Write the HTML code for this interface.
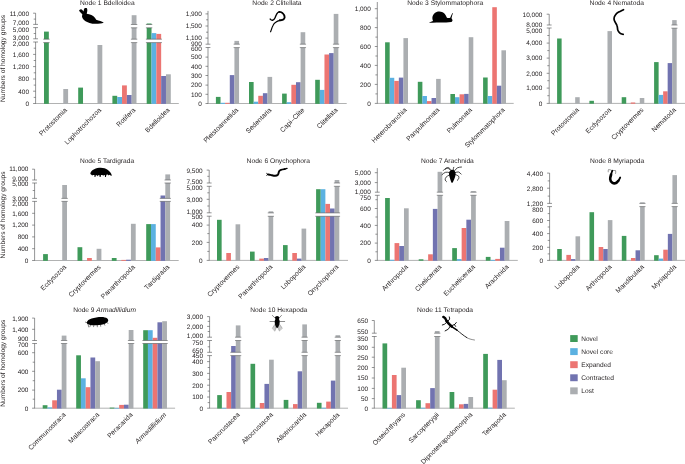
<!DOCTYPE html>
<html><head><meta charset="utf-8"><title>Figure</title>
<style>
html,body{margin:0;padding:0;background:#fff;}
body{width:685px;height:464px;overflow:hidden;}
svg{display:block;}
text{font-family:"Liberation Sans",sans-serif;fill:#231f20;text-rendering:geometricPrecision;}
</style></head><body>
<svg width="685" height="464" viewBox="0 0 685 464">
<rect width="685" height="464" fill="#fff"/>
<g opacity="0.999">
<g>
<path d="M35.3 103.5H178.8" stroke="#4c4d4f" stroke-width="0.44" fill="none"/>
<path d="M35.6 13.2V24.4M35.6 27.6V38.8M35.6 42V103.5M33.1 13.2H35.6M33.7 19.1H35.6M33.2 24.4H38M33.2 27.6H38M33.7 33.5H35.6M33.2 38.8H38M33.2 42H38M33.7 48.2H35.6M33.1 54.4H35.6M33.7 60.5H35.6M33.1 66.6H35.6M33.7 72.8H35.6M33.1 79H35.6M33.7 85.1H35.6M33.1 91.2H35.6M33.7 97.4H35.6M33.1 103.5H35.6" stroke="#4c4d4f" stroke-width="0.6" fill="none"/>
<rect x="44" y="31.6" width="4.82" height="72.25" fill="#3f9a5a"/>
<rect x="63.28" y="89" width="4.82" height="14.85" fill="#abaeb1"/>
<rect x="78.2" y="87.6" width="4.82" height="16.25" fill="#3f9a5a"/>
<rect x="97.48" y="45" width="4.82" height="58.85" fill="#abaeb1"/>
<rect x="112.4" y="95.8" width="4.82" height="8.05" fill="#3f9a5a"/>
<rect x="117.22" y="97" width="4.82" height="6.85" fill="#5bb1e1"/>
<rect x="122.04" y="85.4" width="4.82" height="18.45" fill="#ec7572"/>
<rect x="126.86" y="95" width="4.82" height="8.85" fill="#7173b0"/>
<rect x="131.68" y="15.2" width="4.82" height="88.65" fill="#abaeb1"/>
<rect x="146.7" y="23.5" width="4.82" height="80.35" fill="#3f9a5a"/>
<rect x="151.52" y="33.1" width="4.82" height="70.75" fill="#5bb1e1"/>
<rect x="156.34" y="33.9" width="4.82" height="69.95" fill="#ec7572"/>
<rect x="161.16" y="76" width="4.82" height="27.85" fill="#7173b0"/>
<rect x="165.98" y="74.3" width="4.82" height="29.55" fill="#abaeb1"/>
<rect x="130.68" y="24.5" width="6.82" height="3.3" fill="#fff"/>
<path d="M130.88 24.5H137.3M130.88 27.8H137.3" stroke="#58595b" stroke-width="0.6" fill="none"/>
<rect x="145.7" y="24.5" width="6.82" height="3.3" fill="#fff"/>
<path d="M145.9 24.5H152.32M145.9 27.8H152.32" stroke="#58595b" stroke-width="0.6" fill="none"/>
<rect x="43" y="39.2" width="6.82" height="3.4" fill="#fff"/>
<path d="M43.2 39.2H49.62M43.2 42.6H49.62" stroke="#58595b" stroke-width="0.6" fill="none"/>
<rect x="130.68" y="39.2" width="6.82" height="3.4" fill="#fff"/>
<path d="M130.88 39.2H137.3M130.88 42.6H137.3" stroke="#58595b" stroke-width="0.6" fill="none"/>
<rect x="145.7" y="39.2" width="16.46" height="3.4" fill="#fff"/>
<path d="M145.9 39.2H161.96M145.9 42.6H161.96" stroke="#58595b" stroke-width="0.6" fill="none"/>
<text transform="translate(29 15.8) scale(0.1)" text-anchor="end" font-size="64.5">11,000</text>
<text transform="translate(29 25.4) scale(0.1)" text-anchor="end" font-size="64.5">7,000</text>
<text transform="translate(29 31.7) scale(0.1)" text-anchor="end" font-size="64.5">5,000</text>
<text transform="translate(29 39.6) scale(0.1)" text-anchor="end" font-size="64.5">3,000</text>
<text transform="translate(29 45.9) scale(0.1)" text-anchor="end" font-size="64.5">2,000</text>
<text transform="translate(29 56.7) scale(0.1)" text-anchor="end" font-size="64.5">1,600</text>
<text transform="translate(29 68.9) scale(0.1)" text-anchor="end" font-size="64.5">1,200</text>
<text transform="translate(29 81.3) scale(0.1)" text-anchor="end" font-size="64.5">800</text>
<text transform="translate(29 93.5) scale(0.1)" text-anchor="end" font-size="64.5">400</text>
<text transform="translate(29 105.8) scale(0.1)" text-anchor="end" font-size="64.5">0</text>
<text transform="translate(67.5 110.5) rotate(-45) scale(0.1)" text-anchor="end" font-size="68.0">Protostomia</text>
<text transform="translate(101.7 110.5) rotate(-45) scale(0.1)" text-anchor="end" font-size="68.0">Lophotrochozoa</text>
<text transform="translate(135.9 110.5) rotate(-45) scale(0.1)" text-anchor="end" font-size="68.0">Rotifera</text>
<text transform="translate(170.2 110.5) rotate(-45) scale(0.1)" text-anchor="end" font-size="68.0">Bdelloidea</text>
<text transform="translate(107.3 5.4) scale(0.1)" text-anchor="middle" font-size="67.0" textLength="546" lengthAdjust="spacingAndGlyphs">Node 1 Bdelloidea</text>
</g>
<g>
<path d="M207.7 103.5H346.7" stroke="#4c4d4f" stroke-width="0.44" fill="none"/>
<path d="M208 10.9V44.2M208 47.5V103.5M205.5 13.9H208M206.1 19.8H208M205.5 26H208M206.1 32.2H208M205.5 38.1H208M205.6 44.2H210.4M205.6 47.5H210.4M205.5 57.1H208M205.5 66.3H208M205.5 75.5H208M205.5 85.1H208M205.5 94.3H208M205.5 103.5H208" stroke="#4c4d4f" stroke-width="0.6" fill="none"/>
<rect x="215.9" y="96.9" width="4.63" height="6.95" fill="#3f9a5a"/>
<rect x="220.53" y="102.8" width="4.63" height="1.05" fill="#5bb1e1"/>
<rect x="225.16" y="102.8" width="4.63" height="1.05" fill="#ec7572"/>
<rect x="229.79" y="75.1" width="4.63" height="28.75" fill="#7173b0"/>
<rect x="234.42" y="40.9" width="4.63" height="62.95" fill="#abaeb1"/>
<rect x="249" y="82" width="4.63" height="21.85" fill="#3f9a5a"/>
<rect x="253.63" y="101.7" width="4.63" height="2.15" fill="#5bb1e1"/>
<rect x="258.26" y="95.8" width="4.63" height="8.05" fill="#ec7572"/>
<rect x="262.89" y="93.2" width="4.63" height="10.65" fill="#7173b0"/>
<rect x="267.52" y="76.9" width="4.63" height="26.95" fill="#abaeb1"/>
<rect x="282.1" y="93.6" width="4.63" height="10.25" fill="#3f9a5a"/>
<rect x="286.73" y="102.2" width="4.63" height="1.65" fill="#5bb1e1"/>
<rect x="291.36" y="84.8" width="4.63" height="19.05" fill="#ec7572"/>
<rect x="295.99" y="82.2" width="4.63" height="21.65" fill="#7173b0"/>
<rect x="300.62" y="32.2" width="4.63" height="71.65" fill="#abaeb1"/>
<rect x="315.2" y="79.8" width="4.63" height="24.05" fill="#3f9a5a"/>
<rect x="319.83" y="89.9" width="4.63" height="13.95" fill="#5bb1e1"/>
<rect x="324.46" y="54.5" width="4.63" height="49.35" fill="#ec7572"/>
<rect x="329.09" y="53.1" width="4.63" height="50.75" fill="#7173b0"/>
<rect x="333.72" y="13.9" width="4.63" height="89.95" fill="#abaeb1"/>
<rect x="233.42" y="44.2" width="6.63" height="3.4" fill="#fff"/>
<path d="M233.62 44.2H239.85M233.62 47.6H239.85" stroke="#58595b" stroke-width="0.6" fill="none"/>
<rect x="299.62" y="44.2" width="6.63" height="3.4" fill="#fff"/>
<path d="M299.82 44.2H306.05M299.82 47.6H306.05" stroke="#58595b" stroke-width="0.6" fill="none"/>
<rect x="332.72" y="44.2" width="6.63" height="3.4" fill="#fff"/>
<path d="M332.92 44.2H339.15M332.92 47.6H339.15" stroke="#58595b" stroke-width="0.6" fill="none"/>
<text transform="translate(201.8 16.2) scale(0.1)" text-anchor="end" font-size="64.5">1,900</text>
<text transform="translate(201.8 28.3) scale(0.1)" text-anchor="end" font-size="64.5">1,500</text>
<text transform="translate(201.8 40) scale(0.1)" text-anchor="end" font-size="64.5">1,100</text>
<text transform="translate(201.8 46) scale(0.1)" text-anchor="end" font-size="64.5">900</text>
<text transform="translate(201.8 51) scale(0.1)" text-anchor="end" font-size="64.5">600</text>
<text transform="translate(201.8 59.4) scale(0.1)" text-anchor="end" font-size="64.5">500</text>
<text transform="translate(201.8 68.6) scale(0.1)" text-anchor="end" font-size="64.5">400</text>
<text transform="translate(201.8 77.8) scale(0.1)" text-anchor="end" font-size="64.5">300</text>
<text transform="translate(201.8 87.4) scale(0.1)" text-anchor="end" font-size="64.5">200</text>
<text transform="translate(201.8 96.6) scale(0.1)" text-anchor="end" font-size="64.5">100</text>
<text transform="translate(201.8 105.8) scale(0.1)" text-anchor="end" font-size="64.5">0</text>
<text transform="translate(238.75 110.5) rotate(-45) scale(0.1)" text-anchor="end" font-size="68.0">Pleistoannelida</text>
<text transform="translate(271.85 110.5) rotate(-45) scale(0.1)" text-anchor="end" font-size="68.0">Sedentaria</text>
<text transform="translate(304.95 110.5) rotate(-45) scale(0.1)" text-anchor="end" font-size="68.0">Capi&#8211;Clite</text>
<text transform="translate(338.05 110.5) rotate(-45) scale(0.1)" text-anchor="end" font-size="68.0">Clitellata</text>
<text transform="translate(276.9 5.4) scale(0.1)" text-anchor="middle" font-size="67.0">Node 2 Clitellata</text>
</g>
<g>
<path d="M377 103.4H513.7" stroke="#4c4d4f" stroke-width="0.44" fill="none"/>
<path d="M377.3 2V103.4M374.8 8.7H377.3M375.4 18.1H377.3M374.8 27.6H377.3M375.4 37.1H377.3M374.8 46.5H377.3M375.4 56H377.3M374.8 65.4H377.3M375.4 74.9H377.3M374.8 84.4H377.3M375.4 93.9H377.3M374.8 103.4H377.3" stroke="#4c4d4f" stroke-width="0.6" fill="none"/>
<rect x="385.1" y="42.3" width="4.58" height="61.45" fill="#3f9a5a"/>
<rect x="389.68" y="77.8" width="4.58" height="25.95" fill="#5bb1e1"/>
<rect x="394.26" y="80.9" width="4.58" height="22.85" fill="#ec7572"/>
<rect x="398.84" y="77.6" width="4.58" height="26.15" fill="#7173b0"/>
<rect x="403.42" y="38.1" width="4.58" height="65.65" fill="#abaeb1"/>
<rect x="417.8" y="81.8" width="4.58" height="21.95" fill="#3f9a5a"/>
<rect x="422.38" y="96" width="4.58" height="7.75" fill="#5bb1e1"/>
<rect x="426.96" y="101.1" width="4.58" height="2.65" fill="#ec7572"/>
<rect x="431.54" y="98" width="4.58" height="5.75" fill="#7173b0"/>
<rect x="436.12" y="78.9" width="4.58" height="24.85" fill="#abaeb1"/>
<rect x="450.4" y="94" width="4.58" height="9.75" fill="#3f9a5a"/>
<rect x="454.98" y="97.2" width="4.58" height="6.55" fill="#5bb1e1"/>
<rect x="459.56" y="94.3" width="4.58" height="9.45" fill="#ec7572"/>
<rect x="464.14" y="93.9" width="4.58" height="9.85" fill="#7173b0"/>
<rect x="468.72" y="37.2" width="4.58" height="66.55" fill="#abaeb1"/>
<rect x="483.1" y="77.5" width="4.58" height="26.25" fill="#3f9a5a"/>
<rect x="487.68" y="96" width="4.58" height="7.75" fill="#5bb1e1"/>
<rect x="492.26" y="7.2" width="4.58" height="96.55" fill="#ec7572"/>
<rect x="496.84" y="85.7" width="4.58" height="18.05" fill="#7173b0"/>
<rect x="501.42" y="50.3" width="4.58" height="53.45" fill="#abaeb1"/>
<text transform="translate(370.8 11) scale(0.1)" text-anchor="end" font-size="64.5">1,000</text>
<text transform="translate(370.8 29.9) scale(0.1)" text-anchor="end" font-size="64.5">800</text>
<text transform="translate(370.8 48.8) scale(0.1)" text-anchor="end" font-size="64.5">600</text>
<text transform="translate(370.8 67.7) scale(0.1)" text-anchor="end" font-size="64.5">400</text>
<text transform="translate(370.8 86.7) scale(0.1)" text-anchor="end" font-size="64.5">200</text>
<text transform="translate(370.8 105.7) scale(0.1)" text-anchor="end" font-size="64.5">0</text>
<text transform="translate(407.2 110.4) rotate(-45) scale(0.1)" text-anchor="end" font-size="68.0">Heterobranchia</text>
<text transform="translate(439.9 110.4) rotate(-45) scale(0.1)" text-anchor="end" font-size="68.0">Panpulmonata</text>
<text transform="translate(472.5 110.4) rotate(-45) scale(0.1)" text-anchor="end" font-size="68.0">Pulmonata</text>
<text transform="translate(505.2 110.4) rotate(-45) scale(0.1)" text-anchor="end" font-size="68.0">Stylommatophora</text>
<text transform="translate(445.2 5.1) scale(0.1)" text-anchor="middle" font-size="67.0" textLength="760" lengthAdjust="spacingAndGlyphs">Node 3 Stylommatophora</text>
</g>
<g>
<path d="M548.9 103.4H685" stroke="#4c4d4f" stroke-width="0.44" fill="none"/>
<path d="M549.2 14.2V25M549.2 28V103.4M546.7 14.2H549.2M546.8 25H551.6M546.8 28H551.6M547.3 35.5H549.2M546.7 43.1H549.2M547.3 50.6H549.2M546.7 58.1H549.2M547.3 65.7H549.2M546.7 73.3H549.2M547.3 80.7H549.2M546.7 88.1H549.2M547.3 95.7H549.2M546.7 103.4H549.2" stroke="#4c4d4f" stroke-width="0.6" fill="none"/>
<rect x="557.1" y="38.5" width="4.52" height="65.25" fill="#3f9a5a"/>
<rect x="575.18" y="97.2" width="4.52" height="6.55" fill="#abaeb1"/>
<rect x="589.4" y="100.8" width="4.52" height="2.95" fill="#3f9a5a"/>
<rect x="607.48" y="31.1" width="4.52" height="72.65" fill="#abaeb1"/>
<rect x="621.7" y="97.2" width="4.52" height="6.55" fill="#3f9a5a"/>
<rect x="630.74" y="102.5" width="4.52" height="1.25" fill="#ec7572"/>
<rect x="639.78" y="98" width="4.52" height="5.75" fill="#abaeb1"/>
<rect x="654.1" y="62.1" width="4.52" height="41.65" fill="#3f9a5a"/>
<rect x="658.62" y="94.9" width="4.52" height="8.85" fill="#5bb1e1"/>
<rect x="663.14" y="91.3" width="4.52" height="12.45" fill="#ec7572"/>
<rect x="667.66" y="63.1" width="4.52" height="40.65" fill="#7173b0"/>
<rect x="672.18" y="20.1" width="4.52" height="83.65" fill="#abaeb1"/>
<rect x="671.18" y="25" width="6.52" height="3.2" fill="#fff"/>
<path d="M671.38 25H677.5M671.38 28.2H677.5" stroke="#58595b" stroke-width="0.6" fill="none"/>
<text transform="translate(542.3 16.5) scale(0.1)" text-anchor="end" font-size="64.5">10,000</text>
<text transform="translate(542.3 26.6) scale(0.1)" text-anchor="end" font-size="64.5">8,000</text>
<text transform="translate(542.3 32.9) scale(0.1)" text-anchor="end" font-size="64.5">5,000</text>
<text transform="translate(542.3 45.4) scale(0.1)" text-anchor="end" font-size="64.5">4,000</text>
<text transform="translate(542.3 60.4) scale(0.1)" text-anchor="end" font-size="64.5">3,000</text>
<text transform="translate(542.3 75.6) scale(0.1)" text-anchor="end" font-size="64.5">2,000</text>
<text transform="translate(542.3 90.4) scale(0.1)" text-anchor="end" font-size="64.5">1,000</text>
<text transform="translate(542.3 105.7) scale(0.1)" text-anchor="end" font-size="64.5">0</text>
<text transform="translate(579.4 110.4) rotate(-45) scale(0.1)" text-anchor="end" font-size="68.0">Protostomia</text>
<text transform="translate(611.7 110.4) rotate(-45) scale(0.1)" text-anchor="end" font-size="68.0">Ecdysozoa</text>
<text transform="translate(644 110.4) rotate(-45) scale(0.1)" text-anchor="end" font-size="68.0">Cryptovermes</text>
<text transform="translate(676.4 110.4) rotate(-45) scale(0.1)" text-anchor="end" font-size="68.0">Nematoda</text>
<text transform="translate(616.7 5.1) scale(0.1)" text-anchor="middle" font-size="67.0" textLength="543" lengthAdjust="spacingAndGlyphs">Node 4 Nematoda</text>
</g>
<g>
<path d="M34.3 260.5H178.7" stroke="#4c4d4f" stroke-width="0.44" fill="none"/>
<path d="M34.6 169.2V180M34.6 183V198.4M34.6 201.4V260.5M32.1 169.2H34.6M32.2 180H37M32.2 183H37M32.7 190.5H34.6M32.2 198.4H37M32.2 201.4H37M32.1 213.3H34.6M32.1 225.1H34.6M32.1 236.9H34.6M32.1 248.7H34.6M32.1 260.5H34.6" stroke="#4c4d4f" stroke-width="0.6" fill="none"/>
<rect x="43.1" y="254.1" width="4.78" height="6.75" fill="#3f9a5a"/>
<rect x="62.22" y="185" width="4.78" height="75.85" fill="#abaeb1"/>
<rect x="77.5" y="247.2" width="4.78" height="13.65" fill="#3f9a5a"/>
<rect x="87.06" y="258" width="4.78" height="2.85" fill="#ec7572"/>
<rect x="96.62" y="248.8" width="4.78" height="12.05" fill="#abaeb1"/>
<rect x="111.8" y="258" width="4.78" height="2.85" fill="#3f9a5a"/>
<rect x="121.36" y="259.9" width="4.78" height="0.95" fill="#ec7572"/>
<rect x="126.14" y="259.7" width="4.78" height="1.15" fill="#7173b0"/>
<rect x="130.92" y="223.8" width="4.78" height="37.05" fill="#abaeb1"/>
<rect x="146.2" y="224.1" width="4.78" height="36.75" fill="#3f9a5a"/>
<rect x="150.98" y="224.1" width="4.78" height="36.75" fill="#5bb1e1"/>
<rect x="155.76" y="247.4" width="4.78" height="13.45" fill="#ec7572"/>
<rect x="160.54" y="195.5" width="4.78" height="65.35" fill="#7173b0"/>
<rect x="165.32" y="174.4" width="4.78" height="86.45" fill="#abaeb1"/>
<rect x="164.32" y="180" width="6.78" height="3" fill="#fff"/>
<path d="M164.52 180H170.9M164.52 183H170.9" stroke="#58595b" stroke-width="0.6" fill="none"/>
<rect x="61.22" y="198.4" width="6.78" height="3" fill="#fff"/>
<path d="M61.42 198.4H67.8M61.42 201.4H67.8" stroke="#58595b" stroke-width="0.6" fill="none"/>
<rect x="159.54" y="198.4" width="11.56" height="3" fill="#fff"/>
<path d="M159.74 198.4H170.9M159.74 201.4H170.9" stroke="#58595b" stroke-width="0.6" fill="none"/>
<text transform="translate(28.4 171) scale(0.1)" text-anchor="end" font-size="64.5">11,000</text>
<text transform="translate(28.4 181.1) scale(0.1)" text-anchor="end" font-size="64.5">9,000</text>
<text transform="translate(28.4 186) scale(0.1)" text-anchor="end" font-size="64.5">5,000</text>
<text transform="translate(28.4 201) scale(0.1)" text-anchor="end" font-size="64.5">3,000</text>
<text transform="translate(28.4 206.2) scale(0.1)" text-anchor="end" font-size="64.5">2,000</text>
<text transform="translate(28.4 215.6) scale(0.1)" text-anchor="end" font-size="64.5">1,600</text>
<text transform="translate(28.4 227.4) scale(0.1)" text-anchor="end" font-size="64.5">1,200</text>
<text transform="translate(28.4 239.2) scale(0.1)" text-anchor="end" font-size="64.5">800</text>
<text transform="translate(28.4 251) scale(0.1)" text-anchor="end" font-size="64.5">400</text>
<text transform="translate(28.4 262.8) scale(0.1)" text-anchor="end" font-size="64.5">0</text>
<text transform="translate(66.7 267.5) rotate(-45) scale(0.1)" text-anchor="end" font-size="68.0">Ecdysozoa</text>
<text transform="translate(101.1 267.5) rotate(-45) scale(0.1)" text-anchor="end" font-size="68.0">Cryptovermes</text>
<text transform="translate(135.4 267.5) rotate(-45) scale(0.1)" text-anchor="end" font-size="68.0">Panarthropoda</text>
<text transform="translate(169.8 267.5) rotate(-45) scale(0.1)" text-anchor="end" font-size="68.0">Tardigrada</text>
<text transform="translate(107 163.3) scale(0.1)" text-anchor="middle" font-size="67.0" textLength="541" lengthAdjust="spacingAndGlyphs">Node 5 Tardigrada</text>
</g>
<g>
<path d="M208.9 260.4H348" stroke="#4c4d4f" stroke-width="0.44" fill="none"/>
<path d="M209.2 170.1V183M209.2 186.3V212.8M209.2 216.2V260.4M206.7 170.1H209.2M207.3 176.3H209.2M206.8 183H211.6M206.8 186.3H211.6M207.3 192.8H209.2M206.7 199.3H209.2M207.3 206H209.2M206.8 212.8H211.6M206.8 216.2H211.6M206.7 225.1H209.2M207.3 233.6H209.2M206.7 242.4H209.2M207.3 251.4H209.2M206.7 260.4H209.2" stroke="#4c4d4f" stroke-width="0.6" fill="none"/>
<rect x="217" y="219.8" width="4.64" height="40.95" fill="#3f9a5a"/>
<rect x="226.28" y="253" width="4.64" height="7.75" fill="#ec7572"/>
<rect x="235.56" y="224.3" width="4.64" height="36.45" fill="#abaeb1"/>
<rect x="250" y="251.6" width="4.64" height="9.15" fill="#3f9a5a"/>
<rect x="259.28" y="258.6" width="4.64" height="2.15" fill="#ec7572"/>
<rect x="263.92" y="258" width="4.64" height="2.75" fill="#7173b0"/>
<rect x="268.56" y="211.3" width="4.64" height="49.45" fill="#abaeb1"/>
<rect x="283" y="245.1" width="4.64" height="15.65" fill="#3f9a5a"/>
<rect x="292.28" y="253" width="4.64" height="7.75" fill="#ec7572"/>
<rect x="296.92" y="258.6" width="4.64" height="2.15" fill="#7173b0"/>
<rect x="301.56" y="228.6" width="4.64" height="32.15" fill="#abaeb1"/>
<rect x="316.1" y="189.2" width="4.64" height="71.55" fill="#3f9a5a"/>
<rect x="320.74" y="189.2" width="4.64" height="71.55" fill="#5bb1e1"/>
<rect x="325.38" y="203.9" width="4.64" height="56.85" fill="#ec7572"/>
<rect x="330.02" y="208.5" width="4.64" height="52.25" fill="#7173b0"/>
<rect x="334.66" y="180" width="4.64" height="80.75" fill="#abaeb1"/>
<rect x="333.66" y="183" width="6.64" height="3.3" fill="#fff"/>
<path d="M333.86 183H340.1M333.86 186.3H340.1" stroke="#58595b" stroke-width="0.6" fill="none"/>
<rect x="267.56" y="212.9" width="6.64" height="3.4" fill="#fff"/>
<path d="M267.76 212.9H274M267.76 216.3H274" stroke="#58595b" stroke-width="0.6" fill="none"/>
<rect x="315.1" y="212.9" width="25.2" height="3.4" fill="#fff"/>
<path d="M315.3 212.9H340.1M315.3 216.3H340.1" stroke="#58595b" stroke-width="0.6" fill="none"/>
<text transform="translate(202.6 172.8) scale(0.1)" text-anchor="end" font-size="64.5">9,500</text>
<text transform="translate(202.6 184) scale(0.1)" text-anchor="end" font-size="64.5">7,500</text>
<text transform="translate(202.6 189.5) scale(0.1)" text-anchor="end" font-size="64.5">5,000</text>
<text transform="translate(202.6 201.6) scale(0.1)" text-anchor="end" font-size="64.5">3,000</text>
<text transform="translate(202.6 213.5) scale(0.1)" text-anchor="end" font-size="64.5">1,000</text>
<text transform="translate(202.6 218.9) scale(0.1)" text-anchor="end" font-size="64.5">500</text>
<text transform="translate(202.6 227.4) scale(0.1)" text-anchor="end" font-size="64.5">400</text>
<text transform="translate(202.6 244.9) scale(0.1)" text-anchor="end" font-size="64.5">200</text>
<text transform="translate(202.6 262.7) scale(0.1)" text-anchor="end" font-size="64.5">0</text>
<text transform="translate(239.9 267.4) rotate(-45) scale(0.1)" text-anchor="end" font-size="68.0">Cryptovermes</text>
<text transform="translate(272.9 267.4) rotate(-45) scale(0.1)" text-anchor="end" font-size="68.0">Panarthropoda</text>
<text transform="translate(305.9 267.4) rotate(-45) scale(0.1)" text-anchor="end" font-size="68.0">Lobopodia</text>
<text transform="translate(339 267.4) rotate(-45) scale(0.1)" text-anchor="end" font-size="68.0">Onychophora</text>
<text transform="translate(278.3 163.3) scale(0.1)" text-anchor="middle" font-size="67.0" textLength="634" lengthAdjust="spacingAndGlyphs">Node 6 Onychophora</text>
</g>
<g>
<path d="M377 260.4H517.8" stroke="#4c4d4f" stroke-width="0.44" fill="none"/>
<path d="M377.3 168.1V192.2M377.3 195.3V260.4M374.8 172.7H377.3M374.8 182.6H377.3M374.9 192.2H379.7M374.9 195.3H379.7M375.4 199.7H377.3M374.8 208.5H377.3M375.4 217H377.3M374.8 225.4H377.3M375.4 234.2H377.3M374.8 243.1H377.3M375.4 251.8H377.3M374.8 260.4H377.3" stroke="#4c4d4f" stroke-width="0.6" fill="none"/>
<rect x="385.1" y="198" width="4.72" height="62.75" fill="#3f9a5a"/>
<rect x="389.82" y="259.8" width="4.72" height="0.95" fill="#5bb1e1"/>
<rect x="394.54" y="243.1" width="4.72" height="17.65" fill="#ec7572"/>
<rect x="399.26" y="246" width="4.72" height="14.75" fill="#7173b0"/>
<rect x="403.98" y="208.3" width="4.72" height="52.45" fill="#abaeb1"/>
<rect x="418.7" y="259.3" width="4.72" height="1.45" fill="#3f9a5a"/>
<rect x="428.14" y="254.3" width="4.72" height="6.45" fill="#ec7572"/>
<rect x="432.86" y="208.9" width="4.72" height="51.85" fill="#7173b0"/>
<rect x="437.58" y="171.8" width="4.72" height="88.95" fill="#abaeb1"/>
<rect x="452.2" y="248.1" width="4.72" height="12.65" fill="#3f9a5a"/>
<rect x="456.92" y="259.1" width="4.72" height="1.65" fill="#5bb1e1"/>
<rect x="461.64" y="228" width="4.72" height="32.75" fill="#ec7572"/>
<rect x="466.36" y="219.7" width="4.72" height="41.05" fill="#7173b0"/>
<rect x="471.08" y="191.1" width="4.72" height="69.65" fill="#abaeb1"/>
<rect x="485.8" y="256.9" width="4.72" height="3.85" fill="#3f9a5a"/>
<rect x="490.52" y="259.9" width="4.72" height="0.85" fill="#5bb1e1"/>
<rect x="495.24" y="258.9" width="4.72" height="1.85" fill="#ec7572"/>
<rect x="499.96" y="247.7" width="4.72" height="13.05" fill="#7173b0"/>
<rect x="504.68" y="221" width="4.72" height="39.75" fill="#abaeb1"/>
<rect x="436.58" y="192.2" width="6.72" height="3.1" fill="#fff"/>
<path d="M436.78 192.2H443.1M436.78 195.3H443.1" stroke="#58595b" stroke-width="0.6" fill="none"/>
<rect x="470.08" y="192.2" width="6.72" height="3.1" fill="#fff"/>
<path d="M470.28 192.2H476.6M470.28 195.3H476.6" stroke="#58595b" stroke-width="0.6" fill="none"/>
<text transform="translate(370.8 175) scale(0.1)" text-anchor="end" font-size="64.5">5,000</text>
<text transform="translate(370.8 184.9) scale(0.1)" text-anchor="end" font-size="64.5">3,000</text>
<text transform="translate(370.8 193.8) scale(0.1)" text-anchor="end" font-size="64.5">1,000</text>
<text transform="translate(370.8 200) scale(0.1)" text-anchor="end" font-size="64.5">750</text>
<text transform="translate(370.8 210.8) scale(0.1)" text-anchor="end" font-size="64.5">600</text>
<text transform="translate(370.8 227.7) scale(0.1)" text-anchor="end" font-size="64.5">400</text>
<text transform="translate(370.8 245.4) scale(0.1)" text-anchor="end" font-size="64.5">200</text>
<text transform="translate(370.8 262.7) scale(0.1)" text-anchor="end" font-size="64.5">0</text>
<text transform="translate(408.4 267.4) rotate(-45) scale(0.1)" text-anchor="end" font-size="68.0">Arthropoda</text>
<text transform="translate(442 267.4) rotate(-45) scale(0.1)" text-anchor="end" font-size="68.0">Chelicerata</text>
<text transform="translate(475.5 267.4) rotate(-45) scale(0.1)" text-anchor="end" font-size="68.0">Euchelicerata</text>
<text transform="translate(509.1 267.4) rotate(-45) scale(0.1)" text-anchor="end" font-size="68.0">Arachnida</text>
<text transform="translate(447.4 163.3) scale(0.1)" text-anchor="middle" font-size="67.0" textLength="528" lengthAdjust="spacingAndGlyphs">Node 7 Arachnida</text>
</g>
<g>
<path d="M549.3 260.4H685" stroke="#4c4d4f" stroke-width="0.44" fill="none"/>
<path d="M549.6 173.1V203.4M549.6 206.6V260.4M547.1 173.1H549.6M547.7 180.9H549.6M547.1 188.2H549.6M547.7 196.1H549.6M547.2 203.4H552M547.2 206.6H552M547.7 213.6H549.6M547.1 220.5H549.6M547.7 227H549.6M547.1 233.6H549.6M547.7 240.4H549.6M547.1 247.3H549.6M547.7 253.9H549.6M547.1 260.4H549.6" stroke="#4c4d4f" stroke-width="0.6" fill="none"/>
<rect x="557.2" y="249" width="4.58" height="11.75" fill="#3f9a5a"/>
<rect x="566.36" y="254.9" width="4.58" height="5.85" fill="#ec7572"/>
<rect x="570.94" y="259.1" width="4.58" height="1.65" fill="#7173b0"/>
<rect x="575.52" y="236.3" width="4.58" height="24.45" fill="#abaeb1"/>
<rect x="589.5" y="212.2" width="4.58" height="48.55" fill="#3f9a5a"/>
<rect x="598.66" y="247" width="4.58" height="13.75" fill="#ec7572"/>
<rect x="603.24" y="249" width="4.58" height="11.75" fill="#7173b0"/>
<rect x="607.82" y="220.1" width="4.58" height="40.65" fill="#abaeb1"/>
<rect x="621.8" y="235.9" width="4.58" height="24.85" fill="#3f9a5a"/>
<rect x="630.96" y="258" width="4.58" height="2.75" fill="#ec7572"/>
<rect x="635.54" y="250.3" width="4.58" height="10.45" fill="#7173b0"/>
<rect x="640.12" y="202.3" width="4.58" height="58.45" fill="#abaeb1"/>
<rect x="654.1" y="255.2" width="4.58" height="5.55" fill="#3f9a5a"/>
<rect x="658.68" y="258.6" width="4.58" height="2.15" fill="#5bb1e1"/>
<rect x="663.26" y="249.7" width="4.58" height="11.05" fill="#ec7572"/>
<rect x="667.84" y="233.9" width="4.58" height="26.85" fill="#7173b0"/>
<rect x="672.42" y="175.1" width="4.58" height="85.65" fill="#abaeb1"/>
<rect x="639.12" y="203.4" width="6.58" height="3.2" fill="#fff"/>
<path d="M639.32 203.4H645.5M639.32 206.6H645.5" stroke="#58595b" stroke-width="0.6" fill="none"/>
<rect x="671.42" y="203.4" width="6.58" height="3.2" fill="#fff"/>
<path d="M671.62 203.4H677.8M671.62 206.6H677.8" stroke="#58595b" stroke-width="0.6" fill="none"/>
<text transform="translate(543 175.7) scale(0.1)" text-anchor="end" font-size="64.5">4,400</text>
<text transform="translate(543 190.9) scale(0.1)" text-anchor="end" font-size="64.5">2,800</text>
<text transform="translate(543 205.9) scale(0.1)" text-anchor="end" font-size="64.5">1,200</text>
<text transform="translate(543 211.7) scale(0.1)" text-anchor="end" font-size="64.5">800</text>
<text transform="translate(543 222.8) scale(0.1)" text-anchor="end" font-size="64.5">600</text>
<text transform="translate(543 235.9) scale(0.1)" text-anchor="end" font-size="64.5">400</text>
<text transform="translate(543 249.6) scale(0.1)" text-anchor="end" font-size="64.5">200</text>
<text transform="translate(543 262.7) scale(0.1)" text-anchor="end" font-size="64.5">0</text>
<text transform="translate(579.8 267.4) rotate(-45) scale(0.1)" text-anchor="end" font-size="68.0">Lobopodia</text>
<text transform="translate(612.1 267.4) rotate(-45) scale(0.1)" text-anchor="end" font-size="68.0">Arthropoda</text>
<text transform="translate(644.4 267.4) rotate(-45) scale(0.1)" text-anchor="end" font-size="68.0">Mandibulata</text>
<text transform="translate(676.7 267.4) rotate(-45) scale(0.1)" text-anchor="end" font-size="68.0">Myriapoda</text>
<text transform="translate(617.1 163.3) scale(0.1)" text-anchor="middle" font-size="67.0" textLength="543" lengthAdjust="spacingAndGlyphs">Node 8 Myriapoda</text>
</g>
<g>
<path d="M34.3 408.2H175.1" stroke="#4c4d4f" stroke-width="0.44" fill="none"/>
<path d="M34.6 318.1V340.5M34.6 343.5V408.2M32.1 318.1H34.6M32.1 329.3H34.6M32.2 340.5H37M32.2 343.5H37M32.1 352.7H34.6M32.7 362.2H34.6M32.1 371.3H34.6M32.7 380.7H34.6M32.1 390.1H34.6M32.7 399.2H34.6M32.1 408.2H34.6" stroke="#4c4d4f" stroke-width="0.6" fill="none"/>
<rect x="42.7" y="405.2" width="4.75" height="3.35" fill="#3f9a5a"/>
<rect x="47.45" y="407.4" width="4.75" height="1.15" fill="#5bb1e1"/>
<rect x="52.2" y="400.3" width="4.75" height="8.25" fill="#ec7572"/>
<rect x="56.95" y="389.7" width="4.75" height="18.85" fill="#7173b0"/>
<rect x="61.7" y="335.6" width="4.75" height="72.95" fill="#abaeb1"/>
<rect x="76.2" y="355.3" width="4.75" height="53.25" fill="#3f9a5a"/>
<rect x="80.95" y="378.3" width="4.75" height="30.25" fill="#5bb1e1"/>
<rect x="85.7" y="387.2" width="4.75" height="21.35" fill="#ec7572"/>
<rect x="90.45" y="357.5" width="4.75" height="51.05" fill="#7173b0"/>
<rect x="95.2" y="361.2" width="4.75" height="47.35" fill="#abaeb1"/>
<rect x="109.7" y="407.6" width="4.75" height="0.95" fill="#3f9a5a"/>
<rect x="114.45" y="407.9" width="4.75" height="0.65" fill="#5bb1e1"/>
<rect x="119.2" y="404.9" width="4.75" height="3.65" fill="#ec7572"/>
<rect x="123.95" y="404.7" width="4.75" height="3.85" fill="#7173b0"/>
<rect x="128.7" y="330" width="4.75" height="78.55" fill="#abaeb1"/>
<rect x="143.2" y="330.2" width="4.75" height="78.35" fill="#3f9a5a"/>
<rect x="147.95" y="330.2" width="4.75" height="78.35" fill="#5bb1e1"/>
<rect x="152.7" y="337.8" width="4.75" height="70.75" fill="#ec7572"/>
<rect x="157.45" y="322.3" width="4.75" height="86.25" fill="#7173b0"/>
<rect x="162.2" y="321.2" width="4.75" height="87.35" fill="#abaeb1"/>
<rect x="60.7" y="340.5" width="6.75" height="3" fill="#fff"/>
<path d="M60.9 340.5H67.25M60.9 343.5H67.25" stroke="#58595b" stroke-width="0.6" fill="none"/>
<rect x="127.7" y="340.5" width="6.75" height="3" fill="#fff"/>
<path d="M127.9 340.5H134.25M127.9 343.5H134.25" stroke="#58595b" stroke-width="0.6" fill="none"/>
<rect x="142.2" y="340.5" width="25.75" height="3" fill="#fff"/>
<path d="M142.4 340.5H167.75M142.4 343.5H167.75" stroke="#58595b" stroke-width="0.6" fill="none"/>
<text transform="translate(28.4 320.8) scale(0.1)" text-anchor="end" font-size="64.5">1,900</text>
<text transform="translate(28.4 331.6) scale(0.1)" text-anchor="end" font-size="64.5">1,400</text>
<text transform="translate(28.4 341.2) scale(0.1)" text-anchor="end" font-size="64.5">900</text>
<text transform="translate(28.4 346.7) scale(0.1)" text-anchor="end" font-size="64.5">700</text>
<text transform="translate(28.4 355.3) scale(0.1)" text-anchor="end" font-size="64.5">600</text>
<text transform="translate(28.4 373.6) scale(0.1)" text-anchor="end" font-size="64.5">400</text>
<text transform="translate(28.4 392.4) scale(0.1)" text-anchor="end" font-size="64.5">200</text>
<text transform="translate(28.4 410.5) scale(0.1)" text-anchor="end" font-size="64.5">0</text>
<text transform="translate(66.15 415.2) rotate(-45) scale(0.1)" text-anchor="end" font-size="68.0">Communostraca</text>
<text transform="translate(99.65 415.2) rotate(-45) scale(0.1)" text-anchor="end" font-size="68.0">Malacostraca</text>
<text transform="translate(133.15 415.2) rotate(-45) scale(0.1)" text-anchor="end" font-size="68.0">Peracarida</text>
<text transform="translate(166.65 415.2) rotate(-45) scale(0.1)" text-anchor="end" font-size="68.0"><tspan font-style="italic">Armadillidium</tspan></text>
<text transform="translate(104.6 312) scale(0.1)" text-anchor="middle" font-size="67.0" textLength="627" lengthAdjust="spacingAndGlyphs">Node 9 <tspan font-style="italic">Armadillidium</tspan></text>
</g>
<g>
<path d="M209.3 408.2H348" stroke="#4c4d4f" stroke-width="0.44" fill="none"/>
<path d="M209.6 316.6V337.2M209.6 340.5V352.3M209.6 355.6V408.2M207.1 316.6H209.6M207.7 321.4H209.6M207.1 326.4H209.6M207.7 331.5H209.6M207.2 337.2H212M207.2 340.5H212M207.7 346.8H209.6M207.2 352.3H212M207.2 355.6H212M207.1 361.6H209.6M207.7 367.5H209.6M207.1 373.4H209.6M207.7 379.3H209.6M207.1 385.2H209.6M207.7 391.1H209.6M207.1 397H209.6M207.7 402.6H209.6M207.1 408.2H209.6" stroke="#4c4d4f" stroke-width="0.6" fill="none"/>
<rect x="217.2" y="395.1" width="4.65" height="13.45" fill="#3f9a5a"/>
<rect x="221.85" y="407.9" width="4.65" height="0.65" fill="#5bb1e1"/>
<rect x="226.5" y="392" width="4.65" height="16.55" fill="#ec7572"/>
<rect x="231.15" y="346" width="4.65" height="62.55" fill="#7173b0"/>
<rect x="235.8" y="325.4" width="4.65" height="83.15" fill="#abaeb1"/>
<rect x="250.5" y="363.8" width="4.65" height="44.75" fill="#3f9a5a"/>
<rect x="255.15" y="407.9" width="4.65" height="0.65" fill="#5bb1e1"/>
<rect x="259.8" y="403" width="4.65" height="5.55" fill="#ec7572"/>
<rect x="264.45" y="383.9" width="4.65" height="24.65" fill="#7173b0"/>
<rect x="269.1" y="359.7" width="4.65" height="48.85" fill="#abaeb1"/>
<rect x="283.7" y="399.9" width="4.65" height="8.65" fill="#3f9a5a"/>
<rect x="293" y="404.1" width="4.65" height="4.45" fill="#ec7572"/>
<rect x="297.65" y="371.3" width="4.65" height="37.25" fill="#7173b0"/>
<rect x="302.3" y="324.4" width="4.65" height="84.15" fill="#abaeb1"/>
<rect x="316.9" y="402.8" width="4.65" height="5.75" fill="#3f9a5a"/>
<rect x="321.55" y="407.8" width="4.65" height="0.75" fill="#5bb1e1"/>
<rect x="326.2" y="401.6" width="4.65" height="6.95" fill="#ec7572"/>
<rect x="330.85" y="380.6" width="4.65" height="27.95" fill="#7173b0"/>
<rect x="335.5" y="335.2" width="4.65" height="73.35" fill="#abaeb1"/>
<rect x="234.8" y="337.2" width="6.65" height="3.3" fill="#fff"/>
<path d="M235 337.2H241.25M235 340.5H241.25" stroke="#58595b" stroke-width="0.6" fill="none"/>
<rect x="301.3" y="337.2" width="6.65" height="3.3" fill="#fff"/>
<path d="M301.5 337.2H307.75M301.5 340.5H307.75" stroke="#58595b" stroke-width="0.6" fill="none"/>
<rect x="334.5" y="337.2" width="6.65" height="3.3" fill="#fff"/>
<path d="M334.7 337.2H340.95M334.7 340.5H340.95" stroke="#58595b" stroke-width="0.6" fill="none"/>
<rect x="230.15" y="352.3" width="11.3" height="3.3" fill="#fff"/>
<path d="M230.35 352.3H241.25M230.35 355.6H241.25" stroke="#58595b" stroke-width="0.6" fill="none"/>
<rect x="301.3" y="352.3" width="6.65" height="3.3" fill="#fff"/>
<path d="M301.5 352.3H307.75M301.5 355.6H307.75" stroke="#58595b" stroke-width="0.6" fill="none"/>
<rect x="334.5" y="352.3" width="6.65" height="3.3" fill="#fff"/>
<path d="M334.7 352.3H340.95M334.7 355.6H340.95" stroke="#58595b" stroke-width="0.6" fill="none"/>
<text transform="translate(203 319.1) scale(0.1)" text-anchor="end" font-size="64.5">3,000</text>
<text transform="translate(203 329) scale(0.1)" text-anchor="end" font-size="64.5">2,000</text>
<text transform="translate(203 338.2) scale(0.1)" text-anchor="end" font-size="64.5">1,000</text>
<text transform="translate(203 344.7) scale(0.1)" text-anchor="end" font-size="64.5">750</text>
<text transform="translate(203 353.3) scale(0.1)" text-anchor="end" font-size="64.5">650</text>
<text transform="translate(203 358.2) scale(0.1)" text-anchor="end" font-size="64.5">450</text>
<text transform="translate(203 364.1) scale(0.1)" text-anchor="end" font-size="64.5">400</text>
<text transform="translate(203 375.7) scale(0.1)" text-anchor="end" font-size="64.5">300</text>
<text transform="translate(203 387.5) scale(0.1)" text-anchor="end" font-size="64.5">200</text>
<text transform="translate(203 399.3) scale(0.1)" text-anchor="end" font-size="64.5">100</text>
<text transform="translate(203 410.5) scale(0.1)" text-anchor="end" font-size="64.5">0</text>
<text transform="translate(240.15 415.2) rotate(-45) scale(0.1)" text-anchor="end" font-size="68.0">Pancrustacea</text>
<text transform="translate(273.45 415.2) rotate(-45) scale(0.1)" text-anchor="end" font-size="68.0">Altocrustacea</text>
<text transform="translate(306.65 415.2) rotate(-45) scale(0.1)" text-anchor="end" font-size="68.0">Allotriocarida</text>
<text transform="translate(339.85 415.2) rotate(-45) scale(0.1)" text-anchor="end" font-size="68.0">Hexapoda</text>
<text transform="translate(278.8 312) scale(0.1)" text-anchor="middle" font-size="67.0" textLength="570" lengthAdjust="spacingAndGlyphs">Node 10 Hexapoda</text>
</g>
<g>
<path d="M374 408.2H514.8" stroke="#4c4d4f" stroke-width="0.44" fill="none"/>
<path d="M374.3 320.5V333.2M374.3 336.5V408.2M371.8 320.5H374.3M371.9 333.2H376.7M371.9 336.5H376.7M371.8 347.3H374.3M371.8 357.2H374.3M371.8 367.5H374.3M371.8 378H374.3M371.8 388.4H374.3M371.8 398.6H374.3M371.8 408.2H374.3" stroke="#4c4d4f" stroke-width="0.6" fill="none"/>
<rect x="382.5" y="343.4" width="4.7" height="65.15" fill="#3f9a5a"/>
<rect x="387.2" y="407.9" width="4.7" height="0.65" fill="#5bb1e1"/>
<rect x="391.9" y="375" width="4.7" height="33.55" fill="#ec7572"/>
<rect x="396.6" y="395.1" width="4.7" height="13.45" fill="#7173b0"/>
<rect x="401.3" y="367.7" width="4.7" height="40.85" fill="#abaeb1"/>
<rect x="416.1" y="400.2" width="4.7" height="8.35" fill="#3f9a5a"/>
<rect x="420.8" y="407.8" width="4.7" height="0.75" fill="#5bb1e1"/>
<rect x="425.5" y="403.2" width="4.7" height="5.35" fill="#ec7572"/>
<rect x="430.2" y="388.1" width="4.7" height="20.45" fill="#7173b0"/>
<rect x="434.9" y="331" width="4.7" height="77.55" fill="#abaeb1"/>
<rect x="449.6" y="392" width="4.7" height="16.55" fill="#3f9a5a"/>
<rect x="459" y="404.3" width="4.7" height="4.25" fill="#ec7572"/>
<rect x="463.7" y="403.9" width="4.7" height="4.65" fill="#7173b0"/>
<rect x="468.4" y="397" width="4.7" height="11.55" fill="#abaeb1"/>
<rect x="483.2" y="353.9" width="4.7" height="54.65" fill="#3f9a5a"/>
<rect x="487.9" y="407.7" width="4.7" height="0.85" fill="#5bb1e1"/>
<rect x="492.6" y="389.7" width="4.7" height="18.85" fill="#ec7572"/>
<rect x="497.3" y="359.9" width="4.7" height="48.65" fill="#7173b0"/>
<rect x="502" y="380.2" width="4.7" height="28.35" fill="#abaeb1"/>
<rect x="433.9" y="333.2" width="6.7" height="3.3" fill="#fff"/>
<path d="M434.1 333.2H440.4M434.1 336.5H440.4" stroke="#58595b" stroke-width="0.6" fill="none"/>
<text transform="translate(368.1 322.8) scale(0.1)" text-anchor="end" font-size="64.5">650</text>
<text transform="translate(368.1 334.2) scale(0.1)" text-anchor="end" font-size="64.5">550</text>
<text transform="translate(368.1 340.8) scale(0.1)" text-anchor="end" font-size="64.5">350</text>
<text transform="translate(368.1 349.6) scale(0.1)" text-anchor="end" font-size="64.5">300</text>
<text transform="translate(368.1 359.5) scale(0.1)" text-anchor="end" font-size="64.5">250</text>
<text transform="translate(368.1 369.8) scale(0.1)" text-anchor="end" font-size="64.5">200</text>
<text transform="translate(368.1 380.3) scale(0.1)" text-anchor="end" font-size="64.5">150</text>
<text transform="translate(368.1 390.7) scale(0.1)" text-anchor="end" font-size="64.5">100</text>
<text transform="translate(368.1 400.9) scale(0.1)" text-anchor="end" font-size="64.5">50</text>
<text transform="translate(368.1 410.5) scale(0.1)" text-anchor="end" font-size="64.5">0</text>
<text transform="translate(405.7 415.2) rotate(-45) scale(0.1)" text-anchor="end" font-size="68.0">Osteichthyans</text>
<text transform="translate(439.3 415.2) rotate(-45) scale(0.1)" text-anchor="end" font-size="68.0">Sarcopterygii</text>
<text transform="translate(472.8 415.2) rotate(-45) scale(0.1)" text-anchor="end" font-size="68.0">Dipnotetrapodomorpha</text>
<text transform="translate(506.4 415.2) rotate(-45) scale(0.1)" text-anchor="end" font-size="68.0">Tetrapoda</text>
<text transform="translate(445 312) scale(0.1)" text-anchor="middle" font-size="67.0" textLength="561" lengthAdjust="spacingAndGlyphs">Node 11 Tetrapoda</text>
</g>
<text transform="translate(4.7 58.5) rotate(-90) scale(0.1)" text-anchor="middle" font-size="66" textLength="870" lengthAdjust="spacingAndGlyphs">Numbers of homology groups</text>
<text transform="translate(4.7 214.9) rotate(-90) scale(0.1)" text-anchor="middle" font-size="66" textLength="870" lengthAdjust="spacingAndGlyphs">Numbers of homology groups</text>
<text transform="translate(5.4 363.2) rotate(-90) scale(0.1)" text-anchor="middle" font-size="66" textLength="870" lengthAdjust="spacingAndGlyphs">Numbers of homology groups</text>
<rect x="570.2" y="335.1" width="7.5" height="6.9" fill="#3f9a5a"/>
<text transform="translate(581.3 340.9) scale(0.1)" font-size="67" textLength="165" lengthAdjust="spacingAndGlyphs">Novel</text>
<rect x="570.2" y="348.17" width="7.5" height="6.9" fill="#5bb1e1"/>
<text transform="translate(581.3 353.97) scale(0.1)" font-size="67" textLength="317" lengthAdjust="spacingAndGlyphs">Novel core</text>
<rect x="570.2" y="361.24" width="7.5" height="6.9" fill="#ec7572"/>
<text transform="translate(581.3 367.04) scale(0.1)" font-size="67" textLength="297" lengthAdjust="spacingAndGlyphs">Expanded</text>
<rect x="570.2" y="374.31" width="7.5" height="6.9" fill="#7173b0"/>
<text transform="translate(581.3 380.11) scale(0.1)" font-size="67" textLength="326" lengthAdjust="spacingAndGlyphs">Contracted</text>
<rect x="570.2" y="387.38" width="7.5" height="6.9" fill="#abaeb1"/>
<text transform="translate(581.3 393.18) scale(0.1)" font-size="67" textLength="125" lengthAdjust="spacingAndGlyphs">Lost</text>
<g fill="#000" stroke="none">
<!-- 1 rotifer -->
<path d="M79 10.4 C79.8 9.6 80.8 9.2 81.6 9.4 C82.6 9.9 83.1 10.8 83.6 11.5 C83.7 10.3 83.9 9.2 84.3 8.5 C85.1 8 86.2 7.9 86.9 8.3 C87.4 9.3 87.4 10.6 87.2 11.6 C87.1 12.4 86.8 13.2 86.7 13.8 C88.3 14.2 89.9 14.5 91.4 15.1 C92.9 15.8 94.2 16.8 95.1 17.9 C95.6 18.6 95.9 19.3 96.2 19.8 C97.6 20.2 99 20.7 100.3 21.1 C101.5 21.5 102.8 22 103.8 22.4 C102.8 23 101.6 23.3 100.3 23.5 C97.8 23.9 95 24 92.4 23.7 C90.4 23.4 88.6 22.9 87.1 22.1 C85.7 21.4 84.4 20.5 83.5 19.5 C82.8 18.8 82.3 17.9 82.1 17.1 C81.9 16.2 82.1 15.3 82.4 14.5 C82 13.9 81.5 13.4 81.1 12.9 C80.4 12.2 79.6 11.5 79 10.4Z"/>
<!-- 3 snail -->
<path d="M428.8 22.7 C430.3 22 431.8 21.5 433 21 C432.4 19.8 432.2 18.4 432.4 17 C432.8 14.6 434.4 12.7 436.6 11.9 C438.6 11.2 440.8 11.3 442.6 12.2 C444.4 13.1 445.6 14.7 446.3 16.4 C446.6 17.1 446.9 17.6 447.4 17.9 C448.3 18.2 449.4 18.1 450.2 17.8 C450.8 16.4 451.5 14.6 452.4 13.1 L452.9 13.3 C452.3 14.8 451.8 16.6 451.5 18.2 C452 18.8 452.4 19.5 452.5 20.2 C452.5 21 452 21.6 451.3 21.9 C448 22.4 444.5 22.6 441 22.6 C437 22.7 432.8 22.8 428.8 22.7Z"/>
<!-- 5 tardigrade -->
<path d="M90.3 173.4 C90.6 171.6 92.2 170.2 94.2 169.2 C96.2 168.3 98.5 167.8 100.8 167.8 C103.4 167.8 105.9 168.6 107.9 170 C109.9 171.4 111.4 173.4 111.9 175.8 C111 175.6 110.2 175.2 109.4 174.7 L108.6 175.5 L107.8 174.6 L106.4 174.7 L105.9 176.9 L105 176.9 L104.8 174.9 L103.6 175 L103.2 176.3 L102.6 175 L101 175.1 L100.6 176.9 L99.6 176.9 L99.5 175.2 L98 175.2 L97.4 176.4 L96.9 175.2 L95.8 175.2 L95.4 176.9 L94.5 176.9 L94.4 175.1 L93 175 L92.2 175.6 L91.4 174.8 C90.8 174.5 90.4 174 90.3 173.4Z"/>
<!-- 7 mite body -->
<path d="M452.3 169.7 C450.6 169.9 449.5 171 449.1 172.6 C448.8 174 449 175.4 449.5 176.8 C450.1 178.6 450.6 180.4 451.1 181.8 C451.3 182.4 451.6 182.9 452 182.9 C452.5 182.9 452.9 182.3 453.2 181.6 C453.9 180 454.6 178.2 455.2 176.4 C455.7 175 455.8 173.6 455.5 172.4 C455.1 170.9 454 169.9 452.3 169.7Z"/>
<!-- 9 pill bug -->
<path d="M86.8 322.4 C87.1 320.6 89 319.4 91.6 318.5 C94.4 317.6 98 317 101.4 317 C103.8 317 106 317.5 107.3 318.5 C108.3 319.3 108.5 320.4 107.9 321.5 C107.2 322.7 105.6 323.6 103.6 324.2 C100.6 325 96.8 325.4 93.6 325.3 C91.2 325.2 89 324.8 87.8 324 C87.1 323.6 86.7 323 86.8 322.4Z"/>
<!-- 10 wings -->
<path d="M275.6 322.5 C274.3 324.4 272.9 326.4 272.1 328.3 C272.5 329.6 273.6 330.8 274.8 331.4 C276 330 276.8 328.2 277.1 326.4 C277.4 328.2 278.2 330 279.4 331.3 C280.6 330.7 281.9 329.6 282.5 328.3 C281.7 326.4 280.2 324.4 278.8 322.5Z" fill="#9a9a9a" opacity="0.5"/>
<!-- 10 fly body -->
<path d="M277.1 315.9 C275.9 316 275.1 316.7 275 317.6 C275 318.2 275.2 318.7 275.5 319.1 C274.9 319.9 274.6 321 274.7 322.2 C274.8 324 275.4 325.8 276.1 327.1 C276.4 327.7 276.7 328.1 277.1 328.1 C277.5 328.1 277.9 327.7 278.2 327.1 C278.9 325.8 279.5 324 279.7 322.2 C279.8 321 279.5 319.9 278.9 319.1 C279.2 318.7 279.3 318.2 279.3 317.6 C279.2 316.7 278.3 316 277.1 315.9Z"/>
</g>
<g fill="none" stroke="#000" stroke-linecap="round" stroke-linejoin="round">
<!-- 2 annelid -->
<path d="M270.2 19.1C270.9 20 271.7 20.4 272.6 20.3C273.8 20 274.5 18.9 275.1 17.7C275.8 16.3 276.1 15 276.8 13.8C277.4 12.8 278.3 12.1 279.3 11.9" stroke-width="1.4"/>
<path d="M279.3 11.9C280.5 11.8 281.7 12.2 282.6 13.1C283.6 14 284.4 15.2 284.6 16.5C284.8 17.6 284.5 18.7 283.7 19.3C282.6 20.1 281.2 20.1 279.9 20.3" stroke-width="1.95"/>
<path d="M279.9 20.3C278.4 20.6 276.9 21.3 275.7 22.3C274.5 23.2 273.6 24.3 273 25.5C272.3 26.8 271.8 28.2 271.4 29.6C271.1 30.4 270.8 31.2 270.6 31.8" stroke-width="1.2"/>
<!-- 4 nematode -->
<path d="M623.5 9.7 C621.8 10.6 620.1 11.3 618.6 12.1 C617.2 12.9 616 14 615.2 15.2 C614.4 16.3 614 17.6 614 18.9 C614.1 20.1 614.6 21.2 615.2 22.2 C615.8 23.3 616.6 24.4 617 25.6 C617.5 26.8 617.5 28.1 617.6 29.3 C617.8 30.3 618.3 31.3 618.9 32.1 C619.4 32.8 619.9 33.3 620.5 33.6 C621.4 34.1 622.3 34.3 623.2 34.4" stroke-width="1.7"/>
<!-- 6 onychophoran -->
<path d="M266.3 173.2 L267.9 174.4 L266.4 175.5" stroke-width="0.6"/>
<path d="M267.9 174.4 C268.8 174.6 269.6 174.8 270.5 174.9 C272 175.2 273.6 175.8 275.2 175.8 C276.2 175.8 277.2 175.4 277.9 174.7 C278.6 173.9 278.6 172.9 278.8 172 C279.1 171 279.9 170.3 281 169.9 C282.2 169.5 283.5 169.3 284.7 169.1" stroke-width="1.95"/>
<path d="M284.7 169.1 C285.5 168.9 286.3 168.7 287.1 168.4" stroke-width="1.2"/>
<!-- 7 mite legs -->
<g stroke-width="0.72">
<path d="M450.4 170.3 C449.3 169 448 168 446.5 167.8 C445.3 168.4 444.2 169.4 443.4 170.4"/>
<path d="M451 169.9 C450.2 168.8 449.3 167.8 448.1 167.5 C447.2 167.9 446.3 168.6 445.5 169.3"/>
<path d="M449.2 172.5 C448 172.2 446.7 172.1 445.5 172.3 C444.2 172.8 443 173.7 442 174.7"/>
<path d="M449.3 175 C448.1 175.6 447 176.3 446 177.2 C445.4 178.1 445.1 179 445.2 179.9 C445.4 180.6 445.9 181.2 446.5 181.7"/>
<path d="M453.3 169.9 C453.3 169 453.4 168.1 453.7 167.3"/>
<path d="M454.7 170.6 C455.5 169.5 456.4 168.5 457.5 167.8 C458.8 167.3 460.2 167 461.5 167"/>
<path d="M455.4 172.5 C456.4 172.1 457.5 171.9 458.6 172 C459.6 172.5 460.5 173.3 461.2 174.1"/>
<path d="M455.6 174.6 C456.7 175 457.8 175.5 458.6 176.2 C459 177.1 459 178 458.6 178.8 C458.3 179.4 457.8 180 457.3 180.4"/>
</g>
<!-- 8 myriapod -->
<path d="M612.4 170.7 C611.8 171.9 611.4 173.2 611.1 174.5" stroke-width="1.7"/>
<path d="M611.1 174.5 C610.6 176.1 610.1 177.7 610.2 179.2 C610.3 180.6 611 181.9 612.2 182.6 C613.1 183.2 614.2 183.5 615.3 183.3 C616.6 183 617.6 181.9 618.4 180.8" stroke-width="2.6"/>
<path d="M618.4 180.8 C619.1 179.7 619.7 178.5 620.2 177.5" stroke-width="1.8"/>
<path d="M612.2 170.6 C611 169.9 609.7 169.5 608.5 169.6 C608.2 170.3 608.1 171.1 608.2 171.9 M612.2 170.6 C613.3 170.4 614.5 170.4 615.6 170.6 C615.8 171.6 615.8 172.6 615.6 173.5" stroke-width="0.4"/>
<!-- 9 pill bug legs -->
<path d="M90.6 324.8 L90 326.5 M93.9 325 L93.6 326.7 M97.3 325 L97.3 326.8 M100.5 324.6 L100.7 326.3 M104.2 323.8 L104.8 325.2 M106.6 322.6 L108 323.2 M87.4 322.8 L85.4 322.1 M87.8 323.6 L88.8 327" stroke-width="0.5"/>
<!-- 10 fly legs -->
<path d="M270 321.5 H284.7 M275.2 318.2 L272.3 315.4 M279 318.2 L281.5 315.4" stroke-width="0.45"/>
<path d="M275.9 323 L272.4 328.2 M276.3 324.2 L274.8 331 M278.4 323 L282.3 328.2 M278 324.2 L279.4 331" stroke="#333" stroke-width="0.35" opacity="0.55"/>
<!-- 11 lizard -->
<path d="M443.3 316.9 C444 317.3 444.6 317.7 445.1 318.1 C445.6 319 446 319.9 446.5 320.8" stroke-width="2.4"/>
<path d="M446.5 320.8 C447.3 321.9 448.2 322.9 449 323.9 C449.9 324.9 450.9 325.8 451.8 326.7" stroke-width="2.6"/>
<path d="M451.8 326.7 C453.5 327.9 455.3 329 457 330.2" stroke-width="1.5"/>
<path d="M457 330.2 C458.7 331.5 460.3 332.8 461.9 334.1 C463.5 335.3 465.1 336.6 466.8 337.6" stroke-width="0.85"/>
<path d="M466.8 337.6 C468.1 338.4 469.5 339 471 339.3 C472.1 339.6 473.3 339.8 474.5 340" stroke-width="0.45"/>
<g stroke-width="0.9">
<path d="M446.7 322.3 L444.4 324.3 L442.3 325"/>
<path d="M448.1 321 L449.7 319 L449.3 316.9"/>
<path d="M450.2 326.2 L448.3 329.2 L445.1 330.9"/>
<path d="M452.2 325.5 L454.9 324.3 L456.3 322.5 M454.4 324.6 L455.6 326.4"/>
</g>
</g>

</g>
</svg>
</body></html>
